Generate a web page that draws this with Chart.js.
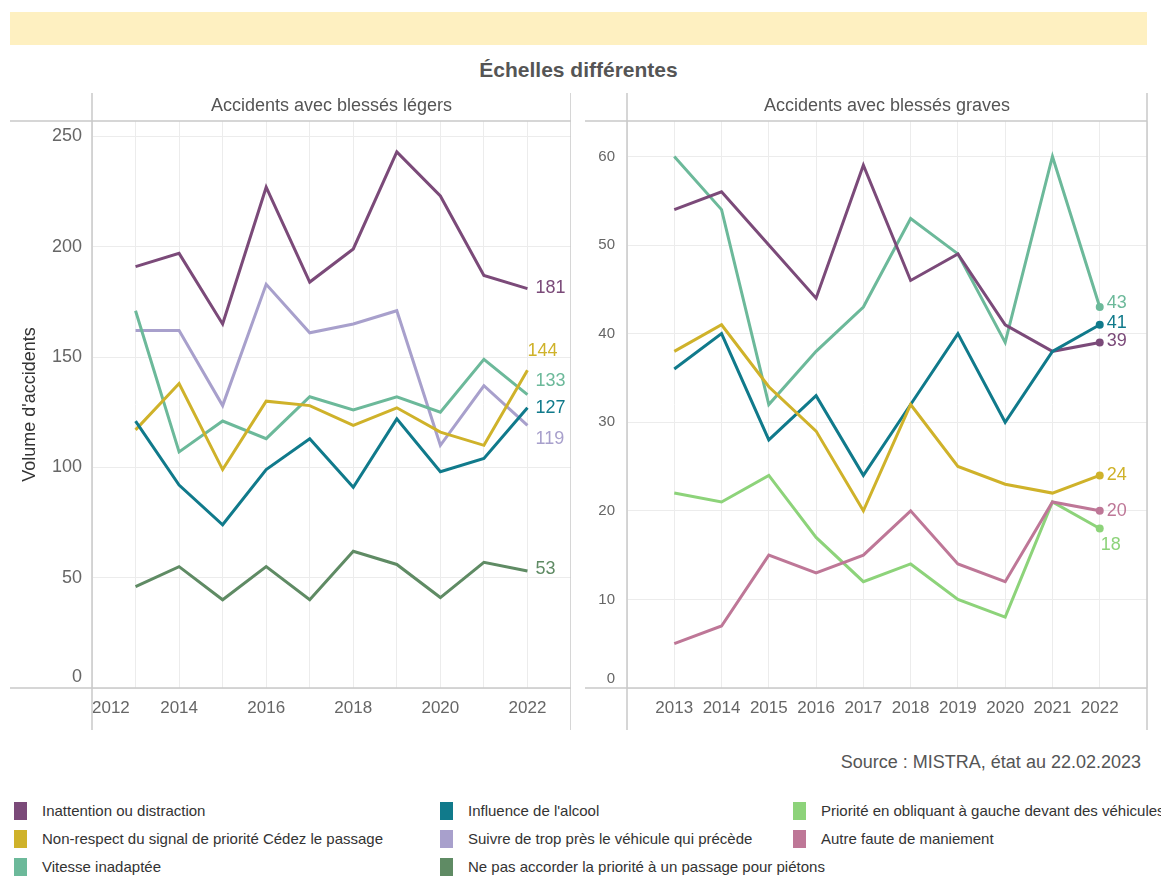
<!DOCTYPE html>
<html lang="fr">
<head>
<meta charset="utf-8">
<title>Échelles différentes</title>
<script src="https://cdn.jsdelivr.net/npm/chart.js@4.4.1/dist/chart.umd.min.js"></script>
<style>
  html, body { margin: 0; padding: 0; background: #fff; }
  body { width: 1161px; height: 878px; position: relative; overflow: hidden; font-family: "Liberation Sans", Arial, sans-serif; }
  #banner { position: absolute; left: 10px; top: 12px; width: 1137px; height: 33px; background: #fef0c1; }
  #title { position: absolute; left: 0; width: 1157px; top: 58px; text-align: center; font-size: 21px; font-weight: bold; color: #555; }
  .panel { position: absolute; top: 93px; height: 637px; }
  #left { left: 10px; width: 561px; }
  #right { left: 585px; width: 566px; }
  #source { position: absolute; right: 20px; top: 752px; font-size: 18px; color: #555; white-space: nowrap; }
  .legend { position: absolute; top: 802px; }
  .legend div { height: 28px; position: relative; white-space: nowrap; font-size: 15px; color: #333; }
  .legend span.sw { position: absolute; left: 0; top: 0; width: 13px; height: 18px; }
  .legend span.tx { position: absolute; left: 28px; top: 0; }
</style>
</head>
<body>
<div id="banner"></div>
<div id="title">Échelles différentes</div>
<div class="panel" id="left"><canvas id="chart-legers"></canvas></div>
<div class="panel" id="right"><canvas id="chart-graves"></canvas></div>
<div id="source">Source : MISTRA, état au 22.02.2023</div>
<div class="legend" id="leg1" style="left:14px"></div>
<div class="legend" id="leg2" style="left:440px"></div>
<div class="legend" id="leg3" style="left:793px"></div>

<script>
// --- données ---
const years = [2013, 2014, 2015, 2016, 2017, 2018, 2019, 2020, 2021, 2022];

// blessés légers
const legersInattention = [191, 197, 165, 227, 184, 199, 243, 223, 187, 181];
const legersSuivre      = [162, 162, 128, 183, 161, 165, 171, 110, 137, 119];
const legersVitesse     = [171, 107, 121, 113, 132, 126, 132, 125, 149, 133];
const legersNonRespect  = [117, 138,  99, 130, 128, 119, 127, 116, 110, 144];
const legersAlcool      = [121,  92,  74,  99, 113,  91, 122,  98, 104, 127];
const legersPietons     = [ 46,  55,  40,  55,  40,  62,  56,  41,  57,  53];

// blessés graves
const gravesInattention = [54, 56, 50, 44, 59, 46, 49, 41, 38, 39];
const gravesVitesse     = [60, 54, 32, 38, 43, 53, 49, 39, 60, 43];
const gravesAlcool      = [36, 40, 28, 33, 24, 32, 40, 30, 38, 41];
const gravesNonRespect  = [38, 41, 34, 29, 20, 32, 25, 23, 22, 24];
const gravesPriorite    = [22, 21, 24, 17, 12, 14, 10,  8, 21, 18];
const gravesAutre       = [ 5,  7, 15, 13, 15, 20, 14, 12, 21, 20];

const yTicksLegers = { min: 0, max: 257, step: 50 };
const yTicksGraves = { min: 0, max: 64, step: 10 };

// --- couleurs ---
const COLORS = {
  inattention: '#7b4a79',
  nonRespect:  '#cfb22a',
  vitesse:     '#6cb99a',
  alcool:      '#107a8b',
  suivre:      '#a8a0cc',
  pietons:     '#5f8b64',
  priorite:    '#8dd37a',
  autre:       '#be7797'
};

const LEGEND = [
  [['inattention', 'Inattention ou distraction'],
   ['nonRespect', 'Non-respect du signal de priorité Cédez le passage'],
   ['vitesse', 'Vitesse inadaptée']],
  [['alcool', "Influence de l'alcool"],
   ['suivre', 'Suivre de trop près le véhicule qui précède'],
   ['pietons', 'Ne pas accorder la priorité à un passage pour piétons']],
  [['priorite', 'Priorité en obliquant à gauche devant des véhicules'],
   ['autre', 'Autre faute de maniement']]
];

LEGEND.forEach((col, i) => {
  const el = document.getElementById('leg' + (i + 1));
  col.forEach(([key, label]) => {
    const row = document.createElement('div');
    row.innerHTML = '<span class="sw" style="background:' + COLORS[key] + '"></span><span class="tx">' + label + '</span>';
    el.appendChild(row);
  });
});

const FONT = "'Liberation Sans', Arial, sans-serif";
const GRID = '#ececec';
const FRAME = '#c9c9c9';

function toPoints(values) {
  return values.map((v, i) => ({ x: years[i], y: v }));
}

function serie(key, values, endLabel, dots) {
  return {
    data: toPoints(values),
    borderColor: COLORS[key],
    backgroundColor: COLORS[key],
    borderWidth: 3,
    tension: 0,
    pointRadius: ctx => (dots && ctx.dataIndex === values.length - 1) ? 4 : 0,
    pointHoverRadius: 0,
    pointBorderWidth: 0,
    endLabel: endLabel
  };
}

// cadre du panneau + titre du panneau
const panelFrame = {
  id: 'panelFrame',
  afterDraw(chart, args, opts) {
    const { ctx, chartArea: a, height } = chart;
    ctx.save();
    ctx.strokeStyle = FRAME;
    ctx.lineWidth = 1.5;
    ctx.beginPath();
    ctx.moveTo(0, a.top); ctx.lineTo(a.right, a.top);
    ctx.moveTo(0, a.bottom); ctx.lineTo(a.right, a.bottom);
    ctx.moveTo(a.left, 0); ctx.lineTo(a.left, height);
    ctx.moveTo(a.right, 0); ctx.lineTo(a.right, height);
    ctx.stroke();
    ctx.fillStyle = '#555';
    ctx.font = '18px ' + FONT;
    ctx.textAlign = 'center';
    ctx.textBaseline = 'middle';
    ctx.fillText(opts.text, (a.left + a.right) / 2, a.top / 2 - 1);
    ctx.restore();
  }
};

// valeur 2022 au bout de chaque ligne
const endLabels = {
  id: 'endLabels',
  afterDatasetsDraw(chart) {
    const ctx = chart.ctx;
    ctx.save();
    ctx.font = '18px ' + FONT;
    ctx.textAlign = 'left';
    ctx.textBaseline = 'middle';
    chart.data.datasets.forEach((ds, i) => {
      const meta = chart.getDatasetMeta(i);
      const last = meta.data[meta.data.length - 1];
      const off = ds.endLabel || { dx: 7, dy: 0 };
      ctx.fillStyle = ds.borderColor;
      ctx.fillText(String(ds.data[ds.data.length - 1].y), last.x + off.dx, last.y + off.dy);
    });
    ctx.restore();
  }
};

function buildOptions(title, yt, yWidth, yFont, yPad, showYTitle, xLabel) {
  return {
    responsive: true,
    maintainAspectRatio: false,
    animation: false,
    layout: { padding: { top: 28, right: 0, bottom: 0, left: 0 } },
    plugins: {
      legend: { display: false },
      tooltip: { enabled: false },
      panelFrame: { text: title }
    },
    scales: {
      x: {
        type: 'linear',
        min: 2012,
        max: 2023,
        grid: { color: GRID, drawTicks: true, tickLength: 10, tickColor: 'rgba(0,0,0,0)' },
        border: { display: false },
        afterFit: s => { s.height = 42; },
        ticks: {
          stepSize: 1,
          autoSkip: false,
          maxRotation: 0,
          align: 'inner',
          padding: 0,
          color: '#666',
          font: { family: FONT, size: 17 },
          callback: xLabel
        }
      },
      y: {
        min: yt.min,
        max: yt.max,
        grid: { color: GRID, drawTicks: false },
        border: { display: false },
        afterFit: s => { s.width = yWidth; },
        title: {
          display: showYTitle,
          text: "Volume d'accidents",
          color: '#333',
          font: { family: FONT, size: 18 },
          padding: { top: 9, bottom: 0 }
        },
        ticks: {
          stepSize: yt.step,
          includeBounds: false,
          padding: yPad,
          color: '#666',
          font: { family: FONT, size: yFont },
          // le 0 est remonté au-dessus de l'axe
          callback: v => v === 0 ? ['0', ''] : String(v)
        }
      }
    }
  };
}

new Chart(document.getElementById('chart-legers'), {
  type: 'line',
  data: {
    datasets: [
      serie('pietons', legersPietons, { dx: 8, dy: -2 }),
      serie('alcool', legersAlcool, { dx: 8, dy: 0 }),
      serie('nonRespect', legersNonRespect, { dx: 0, dy: -19 }),
      serie('vitesse', legersVitesse, { dx: 8, dy: -14 }),
      serie('suivre', legersSuivre, { dx: 8, dy: 14 }),
      serie('inattention', legersInattention, { dx: 8, dy: -1 })
    ]
  },
  options: buildOptions('Accidents avec blessés légers', yTicksLegers, 82, 18, 10, true,
    v => (v % 2 === 0 && v <= 2022) ? String(v) : ''),
  plugins: [panelFrame, endLabels]
});

new Chart(document.getElementById('chart-graves'), {
  type: 'line',
  data: {
    datasets: [
      serie('autre', gravesAutre, { dx: 7, dy: 0 }, true),
      serie('priorite', gravesPriorite, { dx: 1, dy: 16 }, true),
      serie('nonRespect', gravesNonRespect, { dx: 7, dy: 0 }, true),
      serie('alcool', gravesAlcool, { dx: 7, dy: -2 }, true),
      serie('inattention', gravesInattention, { dx: 7, dy: -1 }, true),
      serie('vitesse', gravesVitesse, { dx: 7, dy: -4 }, true)
    ]
  },
  options: buildOptions('Accidents avec blessés graves', yTicksGraves, 42, 15, 12, false,
    v => (v >= 2013 && v <= 2022) ? String(v) : ''),
  plugins: [panelFrame, endLabels]
});
</script>
</body>
</html>
